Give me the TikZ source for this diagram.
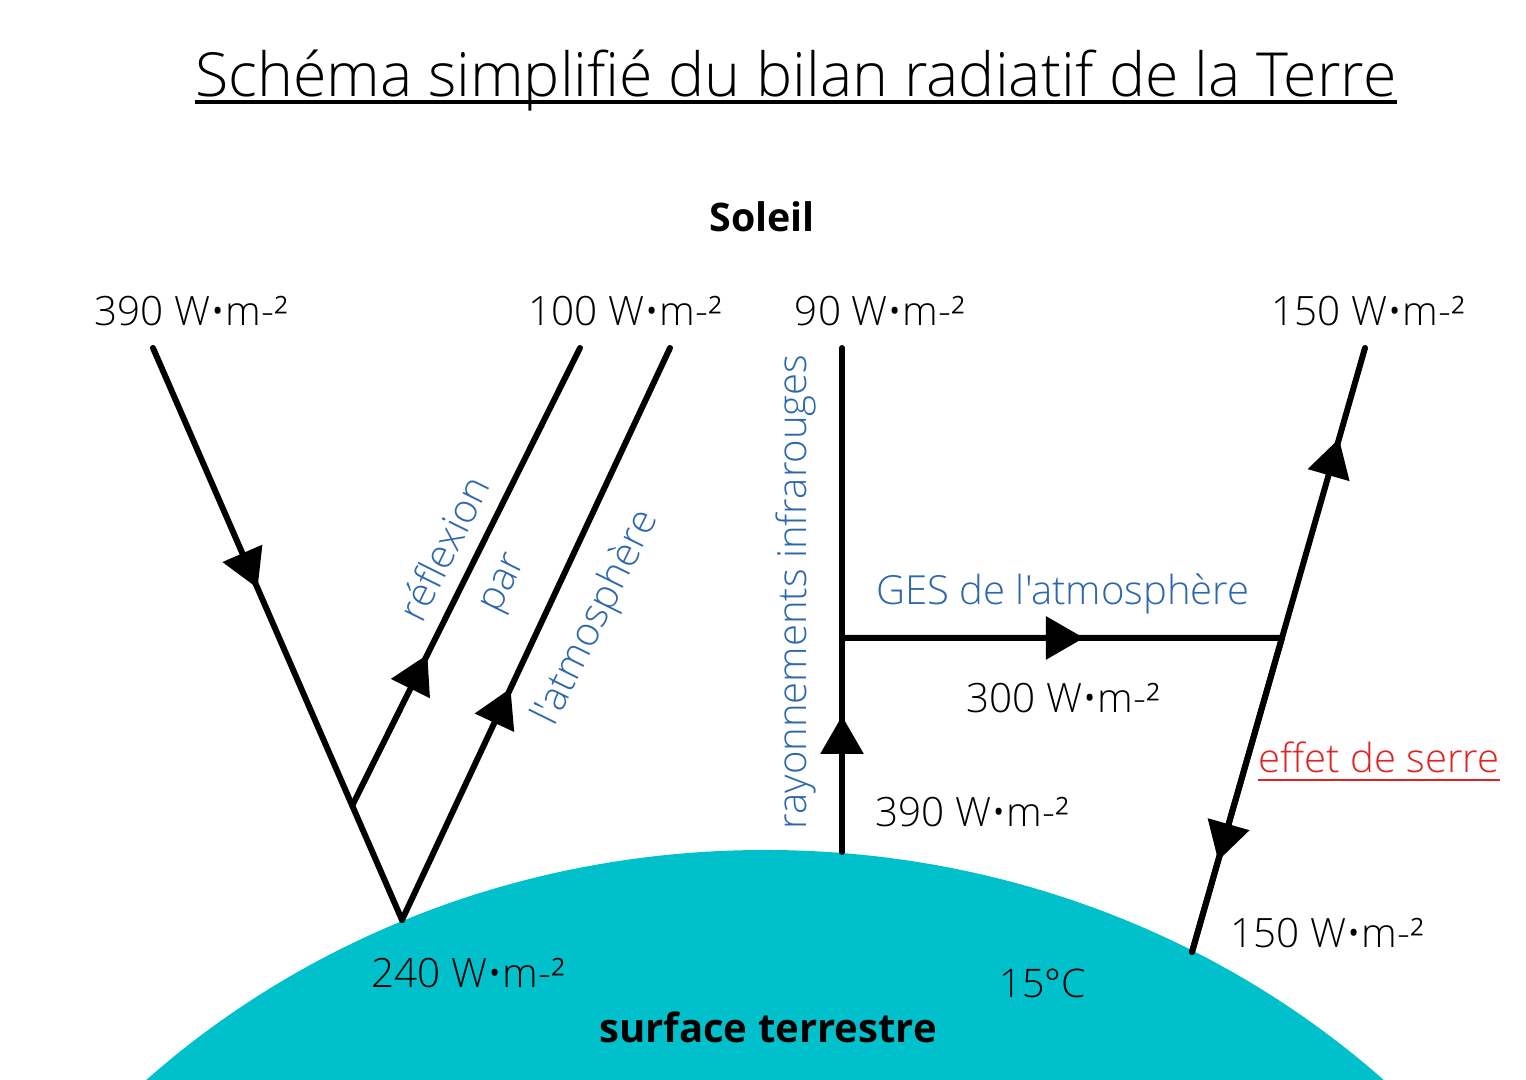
\documentclass[tikz,border=0pt]{standalone}
\usepackage{fontspec}
\setmainfont{Open Sans Light}[Ligatures=TeXOff, BoldFont=Open Sans Bold]
\usetikzlibrary{arrows.meta, decorations.markings, positioning, calc}
\definecolor{terre}{RGB}{0,193,203}
\definecolor{bleuges}{RGB}{46,104,172}
\definecolor{rouge}{RGB}{225,35,35}
\tikzset{
flux/.style={line width=1.7pt, line cap=round}, % the radiation lines
flux at/.style={postaction={decorate}, decoration={markings, mark=at position #1 with {\arrow{Triangle[length=0.38cm, width=0.42cm]}}}}, % triangle on the line
val/.style={anchor=base, font=\fontsize{11.5}{14}\selectfont}, % the values
lbl/.style={font=\fontsize{11.4}{14}\selectfont, text=bleuges}, % blue captions
gras/.style={anchor=base, font=\fontsize{11.4}{14}\selectfont\bfseries}, % bold names
}

\begin{document}
\begin{tikzpicture}
    \useasboundingbox (0,0) rectangle (15.26,10.80);
    % the Earth
    \begin{scope}
    \clip (0,0) rectangle (15.26,10.80);
    \fill[terre] (7.65,-6.10) ellipse [x radius=9, y radius=8.4];
    \end{scope}

    \coordinate (s1) at (1.53,7.32);
    \coordinate (v) at (4.02,1.60);
    \coordinate (s2) at (5.80,7.32);
    \coordinate (s3) at (6.70,7.32);
    \coordinate (br) at ($(s1)!0.80!(v)$);
    \coordinate (ir) at (8.42,2.28);
    \coordinate (s4) at (8.42,7.32);
    \coordinate (g) at (8.42,4.42);
    \coordinate (b) at (11.92,1.28);
    \coordinate (s5) at (13.65,7.32);
    \coordinate (j) at ($(b)!0.52!(s5)$);

    \draw[flux, flux at=0.42] (s1) -- (v);
    \draw[flux, flux at=0.33] (br) -- (s2);
    \draw[flux, flux at=0.405] (v) -- (s3);
    \draw[flux, flux at=0.27] (ir) -- (s4);
    \draw[flux, flux at=0.55] (g) -- (j);
    \draw[flux, flux at=0.85] (b) -- (s5);
    \draw[flux, flux at=0.71] (j) -- (b);

    \node[anchor=base, inner sep=0pt, font=\fontsize{17.3}{20}\selectfont] (titre) at (7.96,9.83) {Schéma simplifié du bilan radiatif de la Terre};
    \draw[line width=0.9pt] ($(titre.base west)+(0,-0.05)$) -- ($(titre.base east)+(0,-0.05)$);
    \node[gras, font=\fontsize{11.2}{14}\selectfont\bfseries] (soleil) at (7.62,8.48) {Soleil};

    \node[val] (w390a) at (1.91,7.54) {390 W•m-²};
    \node[val] (w100) at (6.25,7.54) {100 W•m-²};
    \node[val] (w90) at (8.80,7.54) {90 W•m-²};
    \node[val] (w150a) at (13.68,7.54) {150 W•m-²};
    \node[val] (w300) at (10.63,3.67) {300 W•m-²};
    \node[val] (w390b) at (9.72,2.53) {390 W•m-²};
    \node[val] (w150b) at (13.27,1.32) {150 W•m-²};
    \node[val] (w240) at (4.68,0.92) {240 W•m-²};
    \node[val, font=\fontsize{11.2}{14}\selectfont] (temp) at (10.43,0.82) {15°C};
    \node[gras] (surface) at (7.68,0.37) {surface terrestre};

    \node[lbl, rotate=63.7] (refl) at (4.43,5.32) {réflexion};
    \node[lbl, rotate=63.7] (par) at (5.07,4.95) {par};
    \node[lbl, rotate=63.7] (atmo) at (5.97,4.62) {l'atmosphère};
    \node[lbl, anchor=base, rotate=90] (infra) at (8.06,4.88) {rayonnements infrarouges};
    \node[lbl, anchor=base] (ges) at (10.63,4.75) {GES de l'atmosphère};
    \node[lbl, anchor=base, inner sep=0pt, text=rouge] (serre) at (13.79,3.07) {effet de serre};
    \draw[rouge, line width=0.6pt] ($(serre.base west)+(0,-0.07)$) -- ($(serre.base east)+(0,-0.07)$);
\end{tikzpicture}
\end{document}
